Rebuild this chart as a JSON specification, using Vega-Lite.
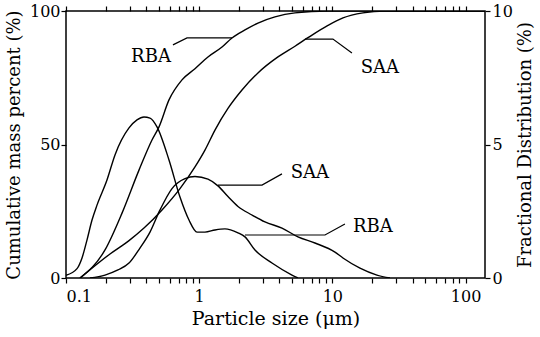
{
  "$schema": "https://vega.github.io/schema/vega-lite/v6.json",
  "width": 419,
  "height": 267,
  "autosize": "none",
  "padding": {"left": 66, "top": 11, "right": 55, "bottom": 59},
  "background": "white",
  "config": {
    "font": "DejaVu Serif",
    "view": {"stroke": "black", "strokeWidth": 1.5},
    "axis": {
      "domain": false, "ticks": true, "tickColor": "black", "tickWidth": 1.2, "zindex": 1,
      "labelColor": "black", "titleColor": "black",
      "labelFont": "DejaVu Serif", "titleFont": "DejaVu Serif",
      "labelFontSize": 16, "titleFontSize": 18, "titleFontWeight": "normal", "grid": false
    }
  },
  "datasets": {
    "cum": [
      {"s": "RBA", "x": 0.1274, "y": 0}, {"s": "RBA", "x": 0.1963, "y": 10.5}, {"s": "RBA", "x": 0.2634, "y": 24.3},
      {"s": "RBA", "x": 0.3532, "y": 40.4}, {"s": "RBA", "x": 0.4422, "y": 51.7}, {"s": "RBA", "x": 0.4993, "y": 56.6},
      {"s": "RBA", "x": 0.5934, "y": 66.7}, {"s": "RBA", "x": 0.7428, "y": 74.2}, {"s": "RBA", "x": 0.93, "y": 78.4},
      {"s": "RBA", "x": 1.164, "y": 82.8}, {"s": "RBA", "x": 1.484, "y": 86.5}, {"s": "RBA", "x": 1.763, "y": 89.9},
      {"s": "RBA", "x": 2.207, "y": 92.9}, {"s": "RBA", "x": 2.763, "y": 95.5}, {"s": "RBA", "x": 3.707, "y": 97.8},
      {"s": "RBA", "x": 5.24, "y": 99.3}, {"s": "RBA", "x": 9.268, "y": 100}, {"s": "RBA", "x": 140, "y": 100},
      {"s": "SAA", "x": 0.1274, "y": 0}, {"s": "SAA", "x": 0.214, "y": 9.0}, {"s": "SAA", "x": 0.2972, "y": 14.0},
      {"s": "SAA", "x": 0.3851, "y": 18.7}, {"s": "SAA", "x": 0.5258, "y": 25.5}, {"s": "SAA", "x": 0.7176, "y": 33.5},
      {"s": "SAA", "x": 0.93, "y": 41.6}, {"s": "SAA", "x": 1.105, "y": 47.9}, {"s": "SAA", "x": 1.314, "y": 55.4},
      {"s": "SAA", "x": 1.645, "y": 63.5}, {"s": "SAA", "x": 2.096, "y": 70.4}, {"s": "SAA", "x": 2.763, "y": 76.8},
      {"s": "SAA", "x": 3.905, "y": 82.8}, {"s": "SAA", "x": 5.24, "y": 86.8}, {"s": "SAA", "x": 6.559, "y": 90.0},
      {"s": "SAA", "x": 9.268, "y": 94.6}, {"s": "SAA", "x": 12.01, "y": 97.4}, {"s": "SAA", "x": 16.97, "y": 99.3},
      {"s": "SAA", "x": 24.83, "y": 100}, {"s": "SAA", "x": 140, "y": 100}
    ],
    "frac": [
      {"s": "RBA", "x": 0.1, "y": 0.1}, {"s": "RBA", "x": 0.121, "y": 0.35}, {"s": "RBA", "x": 0.1319, "y": 0.75},
      {"s": "RBA", "x": 0.1437, "y": 1.42}, {"s": "RBA", "x": 0.1568, "y": 2.17}, {"s": "RBA", "x": 0.1709, "y": 2.73},
      {"s": "RBA", "x": 0.2031, "y": 3.67}, {"s": "RBA", "x": 0.2333, "y": 4.61}, {"s": "RBA", "x": 0.2972, "y": 5.62},
      {"s": "RBA", "x": 0.3412, "y": 5.92}, {"s": "RBA", "x": 0.3851, "y": 6.03}, {"s": "RBA", "x": 0.4272, "y": 5.99},
      {"s": "RBA", "x": 0.4823, "y": 5.66}, {"s": "RBA", "x": 0.5934, "y": 4.42}, {"s": "RBA", "x": 0.7176, "y": 3.03},
      {"s": "RBA", "x": 0.8385, "y": 2.17}, {"s": "RBA", "x": 0.9627, "y": 1.72}, {"s": "RBA", "x": 1.105, "y": 1.72},
      {"s": "RBA", "x": 1.314, "y": 1.8}, {"s": "RBA", "x": 1.562, "y": 1.84}, {"s": "RBA", "x": 1.956, "y": 1.69},
      {"s": "RBA", "x": 2.207, "y": 1.54}, {"s": "RBA", "x": 2.624, "y": 1.05}, {"s": "RBA", "x": 3.52, "y": 0.56},
      {"s": "RBA", "x": 4.975, "y": 0.11}, {"s": "RBA", "x": 5.518, "y": 0},
      {"s": "SAA", "x": 0.1514, "y": 0}, {"s": "SAA", "x": 0.1963, "y": 0.11}, {"s": "SAA", "x": 0.2455, "y": 0.3},
      {"s": "SAA", "x": 0.2972, "y": 0.56}, {"s": "SAA", "x": 0.3591, "y": 1.12}, {"s": "SAA", "x": 0.4272, "y": 1.72},
      {"s": "SAA", "x": 0.508, "y": 2.55}, {"s": "SAA", "x": 0.625, "y": 3.35}, {"s": "SAA", "x": 0.7825, "y": 3.72},
      {"s": "SAA", "x": 0.93, "y": 3.8}, {"s": "SAA", "x": 1.164, "y": 3.7}, {"s": "SAA", "x": 1.384, "y": 3.45},
      {"s": "SAA", "x": 1.645, "y": 3.05}, {"s": "SAA", "x": 1.956, "y": 2.68}, {"s": "SAA", "x": 2.491, "y": 2.36},
      {"s": "SAA", "x": 3.119, "y": 2.1}, {"s": "SAA", "x": 4.184, "y": 1.87}, {"s": "SAA", "x": 5.518, "y": 1.54},
      {"s": "SAA", "x": 7.401, "y": 1.31}, {"s": "SAA", "x": 10.46, "y": 0.97}, {"s": "SAA", "x": 12.01, "y": 0.75},
      {"s": "SAA", "x": 16.12, "y": 0.37}, {"s": "SAA", "x": 21.61, "y": 0.11}, {"s": "SAA", "x": 27.07, "y": 0}
    ],
    "leaders": [
      {"g": "L1", "x": 0.6354, "y": 87.3}, {"g": "L1", "x": 0.81, "y": 89.9}, {"g": "L1", "x": 1.763, "y": 89.9},
      {"g": "L2", "x": 6.228, "y": 89.5}, {"g": "L2", "x": 10.1, "y": 89.5}, {"g": "L2", "x": 14.03, "y": 84.3},
      {"g": "L3", "x": 1.384, "y": 34.8}, {"g": "L3", "x": 2.962, "y": 34.8}, {"g": "L3", "x": 4.184, "y": 39.0},
      {"g": "L4", "x": 2.207, "y": 16.1}, {"g": "L4", "x": 8.8, "y": 16.1}, {"g": "L4", "x": 12.43, "y": 20.2}
    ],
    "labels": [
      {"t": "RBA", "x": 0.4348, "y": 82.8},
      {"t": "SAA", "x": 22.77, "y": 78.7},
      {"t": "SAA", "x": 6.789, "y": 39.3},
      {"t": "RBA", "x": 20.17, "y": 19.1}
    ]
  },
  "layer": [
    {
      "encoding": {
        "x": {
          "field": "x", "type": "quantitative",
          "scale": {"type": "log", "domain": [0.1, 140], "nice": false},
          "axis": {
            "orient": "bottom",
            "values": [0.1, 0.2, 0.3, 0.4, 0.5, 0.6, 0.7, 0.8, 0.9, 1, 2, 3, 4, 5, 6, 7, 8, 9, 10, 20, 30, 40, 50, 60, 70, 80, 90, 100],
            "format": "~g",
            "labelExpr": "datum.value == 0.1 || datum.value == 1 || datum.value == 10 || datum.value == 100 ? datum.label : ''",
            "labelOverlap": false,
            "tickSize": 5,
            "labelPadding": 5,
            "title": "Particle size (μm)",
            "titleFontSize": 19,
            "titlePadding": 5
          }
        },
        "y": {
          "field": "y", "type": "quantitative",
          "scale": {"domain": [0, 100], "nice": false},
          "axis": {
            "orient": "left",
            "values": [0, 50, 100],
            "tickSize": 5,
            "labelPadding": 1,
            "title": "Cumulative mass percent (%)",
            "titlePadding": 6
          }
        }
      },
      "layer": [
        {
          "data": {"name": "cum"},
          "mark": {"type": "line", "interpolate": "monotone", "color": "black", "strokeWidth": 1.4, "clip": true},
          "encoding": {"detail": {"field": "s"}}
        },
        {
          "data": {"name": "leaders"},
          "mark": {"type": "line", "color": "black", "strokeWidth": 1.2},
          "encoding": {"detail": {"field": "g"}}
        },
        {
          "data": {"name": "labels"},
          "mark": {"type": "text", "font": "DejaVu Serif", "fontSize": 18, "color": "black", "align": "center", "baseline": "middle"},
          "encoding": {"text": {"field": "t"}}
        }
      ]
    },
    {
      "data": {"name": "frac"},
      "mark": {"type": "line", "interpolate": "monotone", "color": "black", "strokeWidth": 1.4, "clip": true},
      "encoding": {
        "x": {
          "field": "x", "type": "quantitative",
          "scale": {"type": "log", "domain": [0.1, 140], "nice": false},
          "axis": {
            "orient": "top",
            "values": [0.1, 0.2, 0.3, 0.4, 0.5, 0.6, 0.7, 0.8, 0.9, 1, 2, 3, 4, 5, 6, 7, 8, 9, 10, 20, 30, 40, 50, 60, 70, 80, 90, 100],
            "labels": false,
            "tickSize": 5,
            "title": null
          }
        },
        "y": {
          "field": "y", "type": "quantitative",
          "scale": {"domain": [0, 10], "nice": false},
          "axis": {
            "orient": "right",
            "values": [0, 5, 10],
            "tickSize": 5,
            "labelPadding": 2,
            "title": "Fractional Distribution (%)",
            "titleAngle": 270,
            "titleBaseline": "top",
            "titlePadding": 4
          }
        },
        "detail": {"field": "s"}
      }
    }
  ],
  "resolve": {
    "scale": {"x": "independent", "y": "independent"},
    "axis": {"x": "independent", "y": "independent"}
  }
}
